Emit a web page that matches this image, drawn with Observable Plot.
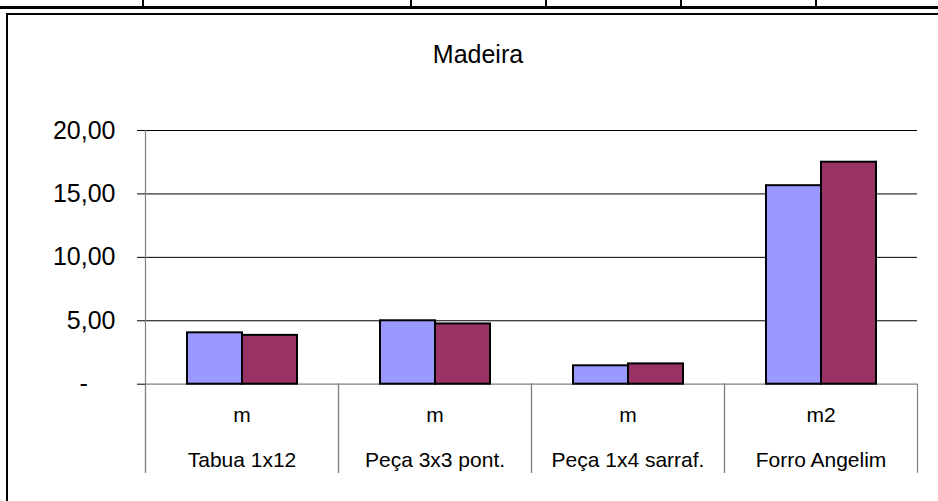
<!DOCTYPE html>
<html>
<head>
<meta charset="utf-8">
<script src="https://cdn.jsdelivr.net/npm/d3@7"></script>
<script src="https://cdn.jsdelivr.net/npm/@observablehq/plot@0.6"></script>
<style>
  html, body { margin: 0; padding: 0; background: #fff; }
  body { font-family: "Liberation Sans", Arial, sans-serif; }
  #wrap { position: relative; width: 938px; height: 501px; overflow: hidden; background: #fff; }
  #box { position: absolute; left: 6px; top: 13px; width: 1000px; height: 600px; border: 2px solid #000; box-sizing: border-box; }
  #strip { position: absolute; left: 0; top: 6px; width: 938px; height: 3px; background: #000; }
  .vl { position: absolute; top: 0; width: 2px; height: 7px; background: #000; }
  #title { position: absolute; left: 0; width: 956px; top: 42px; text-align: center; font-size: 25px; line-height: 25px; color: #000; }
  #chart { position: absolute; left: 0; top: 0; }
</style>
</head>
<body>
<div id="wrap">
  <div id="strip"></div>
  <div class="vl" style="left:142px"></div>
  <div class="vl" style="left:410px"></div>
  <div class="vl" style="left:545px"></div>
  <div class="vl" style="left:680px"></div>
  <div class="vl" style="left:815px"></div>
  <div id="box"></div>
  <div id="title">Madeira</div>
  <div id="chart"></div>
</div>
<script>
const categories = ["Tabua 1x12", "Peça 3x3 pont.", "Peça 1x4 sarraf.", "Forro Angelim"];
const units = ["m", "m", "m", "m2"];
const series = ["Série1", "Série2"];
const serie1 = [4.05, 5.00, 1.45, 15.65];
const serie2 = [3.85, 4.75, 1.60, 17.50];
const yTicks = [0, 5, 10, 15, 20];
const gridTicks = [5, 10, 15, 20];
const colors = ["#9999FF", "#993366"];

const rows = categories.flatMap((c, i) => [
  {cat: c, serie: series[0], value: serie1[i]},
  {cat: c, serie: series[1], value: serie2[i]}
]);
const labels = categories.map((c, i) => ({cat: c, unit: units[i]}));

const fmt = d => d === 0 ? "-\u00a0\u00a0\u00a0\u00a0" : d.toFixed(2).replace(".", ",");

const chart = Plot.plot({
  width: 938,
  height: 501,
  marginLeft: 144,
  marginRight: 20,
  marginTop: 130,
  marginBottom: 117.3,
  style: {background: "transparent", fontFamily: "'Liberation Sans', Arial, sans-serif", overflow: "visible", color: "#000"},
  fx: {domain: categories, paddingInner: 0, paddingOuter: 0, axis: null},
  x: {domain: series, paddingInner: 0, paddingOuter: 0.743, axis: null},
  y: {domain: [0, 20]},
  color: {domain: series, range: colors},
  marks: [
    Plot.ruleY(gridTicks, {stroke: "#000", strokeWidth: 1}),
    Plot.ruleY([0], {stroke: "#808080", strokeWidth: 1.2}),
    Plot.frame({anchor: "left", stroke: "#808080", strokeWidth: 1.2, insetTop: 253.7, insetBottom: -88}),
    Plot.frame({anchor: "right", stroke: "#808080", strokeWidth: 1.2, insetTop: 253.7, insetBottom: -88}),
    Plot.frame({anchor: "left", facetAnchor: "left", stroke: "#808080", strokeWidth: 1.2, insetBottom: -88}),
    Plot.barY(rows, {fx: "cat", x: "serie", y: "value", fill: "serie", stroke: "#000", strokeWidth: 2}),
    Plot.text(labels, {fx: "cat", text: "unit", frameAnchor: "bottom", lineAnchor: "bottom", dy: 38, fontSize: 21, fill: "#000"}),
    Plot.text(labels, {fx: "cat", text: "cat", frameAnchor: "bottom", lineAnchor: "bottom", dy: 82.3, fontSize: 21, fill: "#000"}),
    Plot.axisY({ticks: yTicks, tickFormat: fmt, tickSize: 8, tickPadding: 22, fontSize: 25, stroke: "#000", fill: "#000", label: null})
  ]
});
document.getElementById("chart").appendChild(chart);
</script>
</body>
</html>
